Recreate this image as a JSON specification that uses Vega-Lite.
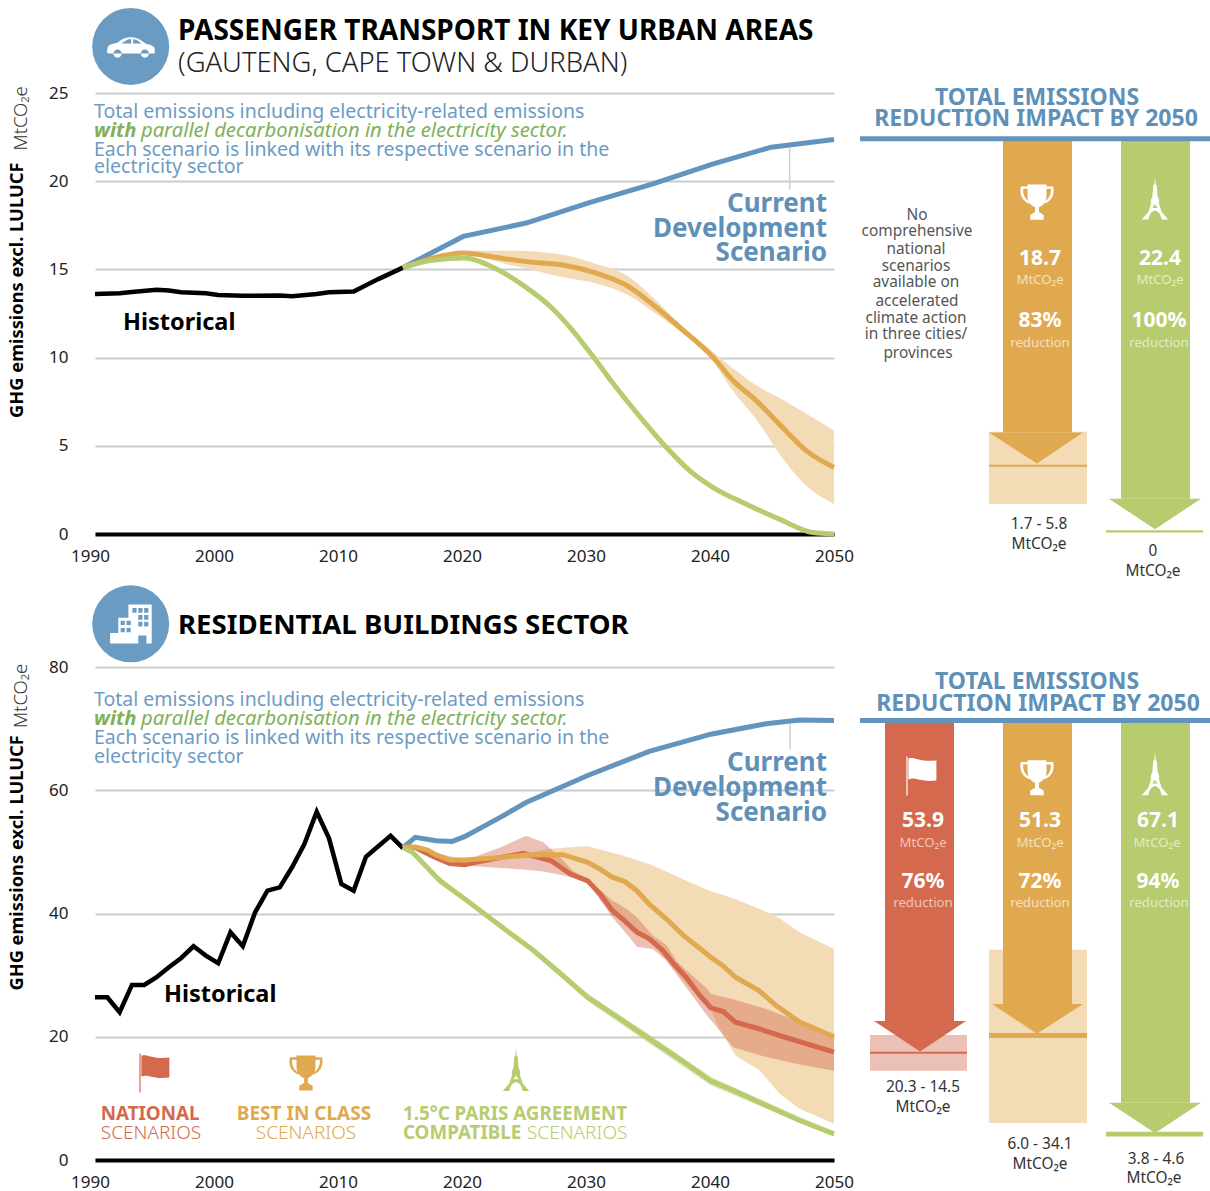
{
"$schema":"https://vega.github.io/schema/vega-lite/v6.json",
"background":"#ffffff",
"padding":{"left":8,"top":7,"right":0,"bottom":5},
"bounds":"flush",
"columns":2,
"spacing":{"row":133,"column":26},
"config":{"view":{"stroke":null},"text":{"font":"Noto Sans"},"axis":{"labelFont":"Noto Sans"}},
"concat":[
{
"width":739,"height":441,
"encoding":{
"x":{"field":"yr","type":"quantitative","title":null,"scale":{"domain":[1990,2050],"nice":false},"axis":{"values":[1990,2000,2010,2020,2030,2040,2050],"format":"d","grid":false,"ticks":false,"domainColor":"#000000","domainWidth":4,"labelFontSize":17,"labelColor":"#222222","labelPadding":14,"labelFlush":false,"labelOverlap":false,"labelBound":false,"labelOffset":{"expr":"-(2050-datum.value)/12"}}},
"y":{"field":"v","type":"quantitative","title":null,"scale":{"domain":[0,25],"nice":false},"axis":{"values":[0,5,10,15,20,25],"grid":true,"gridColor":"#cccccc","gridWidth":2,"ticks":false,"domain":false,"labelFontSize":17,"labelColor":"#222222","labelPadding":27}}
},
"layer":[
{"data":{"values":[{"yr":2015,"v":15.1,"v2":15.1},{"yr":2019.9,"v":16.06,"v2":15.8},{"yr":2024,"v":16.06,"v2":15.2},{"yr":2028,"v":15.83,"v2":14.55},{"yr":2030.7,"v":15.3,"v2":14.2},{"yr":2033.4,"v":14.55,"v2":13.5},{"yr":2035.3,"v":13.4,"v2":12.6},{"yr":2037.5,"v":11.9,"v2":11.5},{"yr":2040.2,"v":10.3,"v2":9.8},{"yr":2041.6,"v":9.5,"v2":8.3},{"yr":2044,"v":8.3,"v2":6.2},{"yr":2045.6,"v":7.7,"v2":4.5},{"yr":2047.8,"v":6.8,"v2":2.7},{"yr":2050,"v":5.85,"v2":1.7}]},"mark":{"type":"area","color":"#f2dbb5","interpolate":"monotone"},"encoding":{"y2":{"field":"v2"}}},
{"data":{"values":[{"yr":2046.4,"v":21.9,"v2":19.52}]},"mark":{"type":"rule","color":"#cfcfcf","strokeWidth":1.5},"encoding":{"y2":{"field":"v2"}}},
{"data":{"values":[{"yr":1990,"v":13.6},{"yr":1992,"v":13.65},{"yr":1993,"v":13.72},{"yr":1995,"v":13.85},{"yr":1996,"v":13.8},{"yr":1997,"v":13.7},{"yr":1999,"v":13.65},{"yr":2000,"v":13.55},{"yr":2002,"v":13.5},{"yr":2005,"v":13.52},{"yr":2006,"v":13.48},{"yr":2008,"v":13.6},{"yr":2009,"v":13.7},{"yr":2011,"v":13.75},{"yr":2012,"v":14.1},{"yr":2013,"v":14.45},{"yr":2015,"v":15.1}]},"mark":{"type":"line","color":"#000000","strokeWidth":4.5}},
{"data":{"values":[{"yr":2015,"v":15.1},{"yr":2019.9,"v":16.87},{"yr":2025,"v":17.63},{"yr":2030.2,"v":18.8},{"yr":2035.3,"v":19.85},{"yr":2040.2,"v":20.98},{"yr":2044.9,"v":21.93},{"yr":2050,"v":22.36}]},"mark":{"type":"line","color":"#6394bd","strokeWidth":5}},
{"data":{"values":[{"yr":2015,"v":15.1},{"yr":2017.2,"v":15.6},{"yr":2019.9,"v":15.93},{"yr":2022.6,"v":15.68},{"yr":2025,"v":15.44},{"yr":2028,"v":15.25},{"yr":2030.5,"v":14.83},{"yr":2033.2,"v":14.08},{"yr":2035.3,"v":13.0},{"yr":2037.5,"v":11.7},{"yr":2040.2,"v":10.0},{"yr":2041.8,"v":8.7},{"yr":2043.7,"v":7.55},{"yr":2045.6,"v":6.2},{"yr":2047.8,"v":4.7},{"yr":2050,"v":3.77}]},"mark":{"type":"line","color":"#e0a94f","strokeWidth":5,"interpolate":"monotone"}},
{"data":{"values":[{"yr":2015,"v":15.1},{"yr":2017.2,"v":15.5},{"yr":2019.9,"v":15.65},{"yr":2022.6,"v":15.02},{"yr":2025,"v":13.98},{"yr":2026.9,"v":12.94},{"yr":2028.8,"v":11.52},{"yr":2030.5,"v":10.0},{"yr":2032.1,"v":8.5},{"yr":2034.3,"v":6.6},{"yr":2036.4,"v":4.9},{"yr":2038.3,"v":3.58},{"yr":2040.2,"v":2.63},{"yr":2042.9,"v":1.68},{"yr":2045.6,"v":0.83},{"yr":2048.3,"v":0.08},{"yr":2050,"v":0}]},"mark":{"type":"line","color":"#b6cc6e","strokeWidth":5,"interpolate":"monotone"}},
{"data":{"values":[{"yr":1992.9,"v":27.64}]},"mark":{"type":"point","shape":"circle","size":5929,"filled":true,"color":"#6a9cc3","opacity":1}},
{"data":{"values":[{"yr":1992.9,"v":27.64}]},"mark":{"type":"point","shape":"M-1,0.25 L-0.95,0 C-0.85,-0.1 -0.7,-0.12 -0.55,-0.15 C-0.35,-0.35 -0.15,-0.38 0.05,-0.38 C0.3,-0.38 0.5,-0.2 0.65,-0.1 C0.85,-0.07 1,0 1,0.1 L1,0.3 L-0.9,0.3 Z M-0.4,-0.12 L0.02,-0.12 L0.02,-0.3 L-0.1,-0.3 Z M0.1,-0.12 L0.45,-0.12 C0.35,-0.22 0.22,-0.3 0.1,-0.3 Z M-0.72,0.3 a0.17,0.17 0 1,0 0.34,0 a0.17,0.17 0 1,0 -0.34,0 Z M0.42,0.3 a0.17,0.17 0 1,0 0.34,0 a0.17,0.17 0 1,0 -0.34,0 Z","size":2300,"filled":true,"color":"#ffffff","opacity":1}},
{"data":{"values":[{"yr":1996.74,"v":28.43,"t":"PASSENGER TRANSPORT IN KEY URBAN AREAS"}]},"mark":{"type":"text","align":"left","baseline":"middle","fontSize":28,"fontWeight":"bold","color":"#000000"},"encoding":{"text":{"field":"t"}}},
{"data":{"values":[{"yr":1996.74,"v":26.67,"t":"(GAUTENG, CAPE TOWN & DURBAN)"}]},"mark":{"type":"text","align":"left","baseline":"middle","fontSize":27.4,"fontWeight":300,"color":"#222222"},"encoding":{"text":{"field":"t"}}},
{"data":{"values":[{"yr":1989.92,"v":23.95,"t":"Total emissions including electricity-related emissions"},{"yr":1989.92,"v":21.79,"t":"Each scenario is linked with its respective scenario in the"},{"yr":1989.92,"v":20.83,"t":"electricity sector"}]},"mark":{"type":"text","align":"left","baseline":"middle","fontSize":19.5,"color":"#6d9bc3"},"encoding":{"text":{"field":"t"}}},
{"data":{"values":[{"yr":1989.92,"v":22.87,"t":"with"}]},"mark":{"type":"text","align":"left","baseline":"middle","fontSize":20.2,"fontWeight":"bold","fontStyle":"italic","color":"#7fb05a"},"encoding":{"text":{"field":"t"}}},
{"data":{"values":[{"yr":1993.73,"v":22.87,"t":"parallel decarbonisation in the electricity sector."}]},"mark":{"type":"text","align":"left","baseline":"middle","fontSize":20.2,"fontStyle":"italic","color":"#7fb05a"},"encoding":{"text":{"field":"t"}}},
{"data":{"values":[{"yr":1992.27,"v":11.98,"t":"Historical"}]},"mark":{"type":"text","align":"left","baseline":"middle","fontSize":23.5,"fontWeight":"bold","color":"#000000"},"encoding":{"text":{"field":"t"}}},
{"data":{"values":[{"yr":2049.43,"v":18.73,"t":"Current"},{"yr":2049.43,"v":17.31,"t":"Development"},{"yr":2049.43,"v":15.95,"t":"Scenario"}]},"mark":{"type":"text","align":"right","baseline":"middle","fontSize":26,"fontWeight":"bold","color":"#5f90b8"},"encoding":{"text":{"field":"t"}}},
{"data":{"values":[{"yr":1983.75,"v":6.58,"t":"GHG emissions excl. LULUCF"}]},"mark":{"type":"text","angle":270,"align":"left","baseline":"middle","fontSize":18.3,"fontWeight":"bold","color":"#000000"},"encoding":{"text":{"field":"t"}}},
{"data":{"values":[{"yr":1984,"v":21.74,"t":"MtCO₂e"}]},"mark":{"type":"text","angle":270,"align":"left","baseline":"middle","fontSize":18.5,"fontWeight":300,"color":"#333333"},"encoding":{"text":{"field":"t"}}}
]
},
{
"width":350,"height":441,
"encoding":{
"x":{"field":"p","type":"quantitative","axis":null,"scale":{"domain":[0,350],"nice":false}},
"y":{"field":"v","type":"quantitative","axis":null,"scale":{"domain":[0,25],"nice":false}}
},
"layer":[
{"data":{"values":[{"s":"Best","p":129,"p2":227,"v":5.8,"v2":1.7}]},"mark":{"type":"rect","opacity":0.42},"encoding":{"x2":{"field":"p2"},"y2":{"field":"v2"},"color":{"field":"s","legend":null,"scale":{"domain":["National","Best","Paris"],"range":["#d4694e","#e0a94f","#b6cc6e"]}}}},
{"data":{"values":[{"s":"Best","p":143,"p2":212,"v":22.4,"v2":5.75},{"s":"Paris","p":261,"p2":330,"v":22.4,"v2":2.0}]},"mark":{"type":"rect"},"encoding":{"x2":{"field":"p2"},"y2":{"field":"v2"},"color":{"field":"s","legend":null,"scale":{"domain":["National","Best","Paris"],"range":["#d4694e","#e0a94f","#b6cc6e"]}}}},
{"data":{"values":[{"s":"Best","p":129,"v":5.75,"v2":5.75},{"s":"Best","p":177,"v":3.99,"v2":5.75},{"s":"Best","p":223,"v":5.75,"v2":5.75},{"s":"Paris","p":249,"v":2.0,"v2":2.0},{"s":"Paris","p":295,"v":0.27,"v2":2.0},{"s":"Paris","p":341,"v":2.0,"v2":2.0}]},"mark":{"type":"area"},"encoding":{"y2":{"field":"v2"},"color":{"field":"s","legend":null,"scale":{"domain":["National","Best","Paris"],"range":["#d4694e","#e0a94f","#b6cc6e"]}}}},
{"data":{"values":[{"s":"Best","p":129,"p2":227,"v":3.93,"v2":3.81},{"s":"Paris","p":246,"p2":343,"v":0.21,"v2":0.09}]},"mark":{"type":"rect"},"encoding":{"x2":{"field":"p2"},"y2":{"field":"v2"},"color":{"field":"s","legend":null,"scale":{"domain":["National","Best","Paris"],"range":["#d4694e","#e0a94f","#b6cc6e"]}}}},
{"data":{"values":[{"p":0,"p2":350,"v":22.4}]},"mark":{"type":"rule","color":"#6394bd","strokeWidth":5},"encoding":{"x2":{"field":"p2"}}},
{"data":{"values":[{"p":177,"v":18.84}]},"mark":{"type":"point","shape":"M-0.5,-0.9 L0.5,-0.9 L0.5,-0.3 C0.5,0.1 0.2,0.25 0.1,0.3 L0.1,0.55 L0.35,0.7 L0.35,0.95 L-0.35,0.95 L-0.35,0.7 L-0.1,0.55 L-0.1,0.3 C-0.2,0.25 -0.5,0.1 -0.5,-0.3 Z M0.5,-0.8 L0.85,-0.8 C0.95,-0.3 0.7,0 0.4,0.1 L0.4,-0.03 C0.6,-0.1 0.75,-0.35 0.73,-0.68 L0.5,-0.68 Z M-0.5,-0.68 L-0.73,-0.68 C-0.75,-0.35 -0.6,-0.1 -0.4,-0.03 L-0.4,0.1 C-0.7,0 -0.95,-0.3 -0.85,-0.8 L-0.5,-0.8 Z","size":1444,"filled":true,"color":"#ffffff","opacity":1}},
{"data":{"values":[{"p":295,"v":19.01}]},"mark":{"type":"point","shape":"M0,-1 L0.03,-0.65 L0.08,-0.6 L0.12,-0.1 L0.2,0.1 L0.17,0.2 L0.3,0.6 L0.6,0.95 L0.3,0.95 C0.25,0.65 0.1,0.55 0,0.55 C-0.1,0.55 -0.25,0.65 -0.3,0.95 L-0.6,0.95 L-0.3,0.6 L-0.17,0.2 L-0.2,0.1 L-0.12,-0.1 L-0.08,-0.6 L-0.03,-0.65 Z M0,0.25 L-0.12,0.42 L0.12,0.42 Z","size":1936,"filled":true,"color":"#ffffff","opacity":1}},
{"data":{"values":[{"p":177,"v":24.74,"t":"TOTAL EMISSIONS"},{"p":176,"v":23.55,"t":"REDUCTION IMPACT BY 2050"}]},"mark":{"type":"text","align":"center","baseline":"middle","fontSize":23,"fontWeight":"bold","color":"#5f90b8"},"encoding":{"text":{"field":"t"}}},
{"data":{"values":[{"p":180,"v":15.61,"t":"18.7"},{"p":180,"v":12.09,"t":"83%"},{"p":300,"v":15.61,"t":"22.4"},{"p":299,"v":12.09,"t":"100%"}]},"mark":{"type":"text","align":"center","baseline":"middle","fontSize":21,"fontWeight":"bold","color":"#ffffff"},"encoding":{"text":{"field":"t"}}},
{"data":{"values":[{"p":180,"v":14.42,"t":"MtCO₂e"},{"p":180,"v":10.84,"t":"reduction"}]},"mark":{"type":"text","align":"center","baseline":"middle","fontSize":13.2,"color":"#f5e0bd"},"encoding":{"text":{"field":"t"}}},
{"data":{"values":[{"p":300,"v":14.42,"t":"MtCO₂e"},{"p":299,"v":10.84,"t":"reduction"}]},"mark":{"type":"text","align":"center","baseline":"middle","fontSize":13.2,"color":"#e3ecc4"},"encoding":{"text":{"field":"t"}}},
{"data":{"values":[{"p":179,"v":0.57,"t":"1.7 - 5.8"},{"p":179,"v":-0.57,"t":"MtCO₂e"},{"p":293,"v":-0.96,"t":"0"},{"p":293,"v":-2.1,"t":"MtCO₂e"}]},"mark":{"type":"text","align":"center","baseline":"middle","fontSize":15.4,"color":"#333333"},"encoding":{"text":{"field":"t"}}},
{"data":{"values":[{"p":57,"v":18.1,"t":"No"},{"p":57,"v":17.2,"t":"comprehensive"},{"p":56,"v":16.17,"t":"national"},{"p":56,"v":15.21,"t":"scenarios"},{"p":56,"v":14.3,"t":"available on"},{"p":57,"v":13.22,"t":"accelerated"},{"p":56,"v":12.26,"t":"climate action"},{"p":56,"v":11.35,"t":"in three cities/"},{"p":58,"v":10.27,"t":"provinces"}]},"mark":{"type":"text","align":"center","baseline":"middle","fontSize":15.4,"color":"#555555"},"encoding":{"text":{"field":"t"}}}
]
},
{
"width":739,"height":493,
"encoding":{
"x":{"field":"yr","type":"quantitative","title":null,"scale":{"domain":[1990,2050],"nice":false},"axis":{"values":[1990,2000,2010,2020,2030,2040,2050],"format":"d","grid":false,"ticks":false,"domainColor":"#000000","domainWidth":4,"labelFontSize":17,"labelColor":"#222222","labelPadding":14,"labelFlush":false,"labelOverlap":false,"labelBound":false,"labelOffset":{"expr":"-(2050-datum.value)/12"}}},
"y":{"field":"v","type":"quantitative","title":null,"scale":{"domain":[0,80],"nice":false},"axis":{"values":[0,20,40,60,80],"grid":true,"gridColor":"#cccccc","gridWidth":2,"ticks":false,"domain":false,"labelFontSize":17,"labelColor":"#222222","labelPadding":27}}
},
"layer":[
{"data":{"values":[{"yr":2015,"v":50.8,"v2":50.8},{"yr":2020,"v":48.9,"v2":48.5},{"yr":2025,"v":49.8,"v2":49},{"yr":2027,"v":50.5,"v2":48.5},{"yr":2028.8,"v":50.8,"v2":46.4},{"yr":2030,"v":50.9,"v2":45.2},{"yr":2032.4,"v":49.65,"v2":40.0},{"yr":2033.7,"v":48.9,"v2":37.8},{"yr":2035.3,"v":47.8,"v2":35.06},{"yr":2038,"v":45.3,"v2":28.6},{"yr":2040,"v":43.6,"v2":24.25},{"yr":2040.7,"v":43.2,"v2":21.3},{"yr":2042,"v":42.3,"v2":16.95},{"yr":2044,"v":40.7,"v2":14.5},{"yr":2045.6,"v":39.2,"v2":10.7},{"yr":2047.2,"v":36.95,"v2":8.3},{"yr":2050,"v":34.25,"v2":5.9}]},"mark":{"type":"area","color":"#f2dbb5"},"encoding":{"y2":{"field":"v2"}}},
{"data":{"values":[{"yr":2020,"v":48.6,"v2":47.8},{"yr":2022.9,"v":50.7,"v2":47.4},{"yr":2025,"v":52.6,"v2":47.1},{"yr":2026.4,"v":51.55,"v2":46.8},{"yr":2027.8,"v":49.1,"v2":46.3},{"yr":2028.8,"v":46.9,"v2":45.8},{"yr":2030,"v":45.6,"v2":45.05},{"yr":2032,"v":42.1,"v2":39.4},{"yr":2033.2,"v":40.7,"v2":36.6},{"yr":2034,"v":39.4,"v2":34.6},{"yr":2035.3,"v":36.4,"v2":34.2},{"yr":2036.4,"v":34.9,"v2":32.35},{"yr":2037.2,"v":32.35,"v2":30.2},{"yr":2038,"v":30.8,"v2":28},{"yr":2039.7,"v":27.8,"v2":23.4},{"yr":2040,"v":26.95,"v2":22.7},{"yr":2041.8,"v":26.1,"v2":18.3},{"yr":2044.5,"v":24.5,"v2":16.7},{"yr":2047.2,"v":22.4,"v2":15.5},{"yr":2050,"v":19.9,"v2":14.5}]},"mark":{"type":"area","color":"#d4694e","opacity":0.42},"encoding":{"y2":{"field":"v2"}}},
{"data":{"values":[{"yr":2015,"v":50.7,"v2":50.7},{"yr":2020,"v":42.7,"v2":42.2},{"yr":2025,"v":35.3,"v2":34.6},{"yr":2030,"v":27,"v2":25.8},{"yr":2035,"v":20.4,"v2":18.9},{"yr":2040,"v":13.5,"v2":12.1},{"yr":2045,"v":9,"v2":7.9},{"yr":2050,"v":4.6,"v2":3.9}]},"mark":{"type":"area","color":"#b6cc6e","opacity":0.45},"encoding":{"y2":{"field":"v2"}}},
{"data":{"values":[{"yr":2046.43,"v":70.8,"v2":66.57}]},"mark":{"type":"rule","color":"#cfcfcf","strokeWidth":1.5},"encoding":{"y2":{"field":"v2"}}},
{"data":{"values":[{"yr":1990,"v":26.41},{"yr":1991,"v":26.41},{"yr":1992,"v":23.98},{"yr":1993,"v":28.41},{"yr":1994,"v":28.41},{"yr":1995,"v":29.66},{"yr":1996,"v":31.28},{"yr":1997,"v":32.79},{"yr":1998,"v":34.68},{"yr":1999,"v":33.17},{"yr":2000,"v":31.93},{"yr":2001,"v":36.95},{"yr":2002,"v":34.68},{"yr":2003,"v":40.2},{"yr":2004,"v":43.7},{"yr":2005,"v":44.25},{"yr":2006,"v":47.5},{"yr":2007,"v":51.28},{"yr":2008,"v":56.52},{"yr":2009,"v":52.2},{"yr":2010,"v":44.8},{"yr":2011,"v":43.7},{"yr":2012,"v":49.2},{"yr":2013,"v":50.9},{"yr":2014,"v":52.6},{"yr":2015,"v":50.6}]},"mark":{"type":"line","color":"#000000","strokeWidth":4.5}},
{"data":{"values":[{"yr":2015,"v":50.7},{"yr":2016,"v":52.36},{"yr":2017.7,"v":51.8},{"yr":2019,"v":51.7},{"yr":2020,"v":52.47},{"yr":2022.9,"v":55.6},{"yr":2025,"v":58},{"yr":2030,"v":62.4},{"yr":2035,"v":66.3},{"yr":2040,"v":69.1},{"yr":2044.5,"v":70.8},{"yr":2047.2,"v":71.4},{"yr":2050,"v":71.3}]},"mark":{"type":"line","color":"#6394bd","strokeWidth":5}},
{"data":{"values":[{"yr":2015,"v":50.8},{"yr":2016,"v":50.7},{"yr":2017.5,"v":49.2},{"yr":2018.8,"v":48.1},{"yr":2020,"v":47.9},{"yr":2021.5,"v":48.57},{"yr":2024.8,"v":49.76},{"yr":2027,"v":48.6},{"yr":2028.6,"v":46.4},{"yr":2030,"v":45.3},{"yr":2031,"v":43.2},{"yr":2032,"v":40.5},{"yr":2033,"v":38.8},{"yr":2034,"v":36.95},{"yr":2035,"v":35.9},{"yr":2036.1,"v":34},{"yr":2037,"v":31.8},{"yr":2038,"v":29.65},{"yr":2039.1,"v":26.7},{"yr":2040,"v":24.7},{"yr":2041,"v":24.1},{"yr":2042,"v":22.35},{"yr":2043.9,"v":21.3},{"yr":2045.9,"v":20},{"yr":2047.8,"v":18.85},{"yr":2050,"v":17.5}]},"mark":{"type":"line","color":"#d4694e","strokeWidth":5}},
{"data":{"values":[{"yr":2015,"v":50.8},{"yr":2016,"v":50.8},{"yr":2017,"v":50.3},{"yr":2017.7,"v":49.5},{"yr":2018.8,"v":48.7},{"yr":2020,"v":48.7},{"yr":2023,"v":49.1},{"yr":2025,"v":49.5},{"yr":2028,"v":49.55},{"yr":2030,"v":48.3},{"yr":2031,"v":47.2},{"yr":2032,"v":45.9},{"yr":2033,"v":45.2},{"yr":2034,"v":43.7},{"yr":2035,"v":41.5},{"yr":2036.4,"v":39.1},{"yr":2037.8,"v":36.4},{"yr":2040,"v":32.9},{"yr":2041,"v":31.5},{"yr":2042,"v":29.65},{"yr":2043.9,"v":27.5},{"yr":2045.3,"v":25.05},{"yr":2047.2,"v":22.4},{"yr":2050,"v":20}]},"mark":{"type":"line","color":"#e0a94f","strokeWidth":5}},
{"data":{"values":[{"yr":2015,"v":50.7},{"yr":2015.8,"v":49.9},{"yr":2018,"v":45.3},{"yr":2020,"v":42.4},{"yr":2022.9,"v":38},{"yr":2025.6,"v":34},{"yr":2028,"v":29.9},{"yr":2030,"v":26.4},{"yr":2032.4,"v":23.2},{"yr":2035,"v":19.65},{"yr":2037.8,"v":15.9},{"yr":2040,"v":12.8},{"yr":2041.8,"v":11.3},{"yr":2044.5,"v":8.85},{"yr":2047.2,"v":6.4},{"yr":2050,"v":4.25}]},"mark":{"type":"line","color":"#b6cc6e","strokeWidth":5}},
{"data":{"values":[{"yr":1992.9,"v":87}]},"mark":{"type":"point","shape":"circle","size":5929,"filled":true,"color":"#6a9cc3","opacity":1}},
{"data":{"values":[{"yr":1992.9,"v":87}]},"mark":{"type":"point","shape":"M-0.11,-0.92 L1,-0.92 L1,0.94 L-0.98,0.94 L-0.98,0.43 L-0.59,0.43 L-0.59,-0.29 L-0.11,-0.29 Z M0.08,-0.75 L0.08,-0.53 L0.28,-0.53 L0.28,-0.75 Z M0.36,-0.75 L0.36,-0.53 L0.56,-0.53 L0.56,-0.75 Z M0.64,-0.75 L0.64,-0.53 L0.84,-0.53 L0.84,-0.75 Z M0.36,-0.42 L0.36,-0.2 L0.56,-0.2 L0.56,-0.42 Z M0.64,-0.42 L0.64,-0.2 L0.84,-0.2 L0.84,-0.42 Z M0.36,-0.1 L0.36,0.12 L0.56,0.12 L0.56,-0.1 Z M0.64,-0.1 L0.64,0.12 L0.84,0.12 L0.84,-0.1 Z M-0.48,-0.15 L-0.48,0.05 L-0.28,0.05 L-0.28,-0.15 Z M-0.2,-0.15 L-0.2,0.05 L0,0.05 L0,-0.15 Z M-0.48,0.2 L-0.48,0.4 L-0.28,0.4 L-0.28,0.2 Z M-0.2,0.2 L-0.2,0.4 L0,0.4 L0,0.2 Z M0.36,0.55 L0.36,0.94 L0.75,0.94 L0.75,0.55 Z","size":1764,"filled":true,"color":"#ffffff","opacity":1}},
{"data":{"values":[{"yr":1994.87,"v":14.19}]},"mark":{"type":"point","shape":"M-0.78,-0.95 L-0.72,-0.95 L-0.72,1 L-0.78,1 Z M-0.68,-0.85 C-0.35,-0.95 -0.1,-0.65 0.72,-0.75 L0.72,0.25 C-0.1,0.35 -0.35,0.05 -0.68,0.2 Z","size":1600,"filled":true,"color":"#d4694e","opacity":1}},
{"data":{"values":[{"yr":2007.13,"v":14.19}]},"mark":{"type":"point","shape":"M-0.5,-0.9 L0.5,-0.9 L0.5,-0.3 C0.5,0.1 0.2,0.25 0.1,0.3 L0.1,0.55 L0.35,0.7 L0.35,0.95 L-0.35,0.95 L-0.35,0.7 L-0.1,0.55 L-0.1,0.3 C-0.2,0.25 -0.5,0.1 -0.5,-0.3 Z M0.5,-0.8 L0.85,-0.8 C0.95,-0.3 0.7,0 0.4,0.1 L0.4,-0.03 C0.6,-0.1 0.75,-0.35 0.73,-0.68 L0.5,-0.68 Z M-0.5,-0.68 L-0.73,-0.68 C-0.75,-0.35 -0.6,-0.1 -0.4,-0.03 L-0.4,0.1 C-0.7,0 -0.95,-0.3 -0.85,-0.8 L-0.5,-0.8 Z","size":1444,"filled":true,"color":"#e0a94f","opacity":1}},
{"data":{"values":[{"yr":2024.18,"v":14.6}]},"mark":{"type":"point","shape":"M0,-1 L0.03,-0.65 L0.08,-0.6 L0.12,-0.1 L0.2,0.1 L0.17,0.2 L0.3,0.6 L0.6,0.95 L0.3,0.95 C0.25,0.65 0.1,0.55 0,0.55 C-0.1,0.55 -0.25,0.65 -0.3,0.95 L-0.6,0.95 L-0.3,0.6 L-0.17,0.2 L-0.2,0.1 L-0.12,-0.1 L-0.08,-0.6 L-0.03,-0.65 Z M0,0.25 L-0.12,0.42 L0.12,0.42 Z","size":1936,"filled":true,"color":"#b6cc6e","opacity":1}},
{"data":{"values":[{"yr":1996.74,"v":86.7,"t":"RESIDENTIAL BUILDINGS SECTOR"}]},"mark":{"type":"text","align":"left","baseline":"middle","fontSize":27.6,"fontWeight":"bold","color":"#000000"},"encoding":{"text":{"field":"t"}}},
{"data":{"values":[{"yr":1989.92,"v":74.68,"t":"Total emissions including electricity-related emissions"},{"yr":1989.92,"v":68.5,"t":"Each scenario is linked with its respective scenario in the"},{"yr":1989.92,"v":65.44,"t":"electricity sector"}]},"mark":{"type":"text","align":"left","baseline":"middle","fontSize":19.5,"color":"#6d9bc3"},"encoding":{"text":{"field":"t"}}},
{"data":{"values":[{"yr":1989.92,"v":71.6,"t":"with"}]},"mark":{"type":"text","align":"left","baseline":"middle","fontSize":20.2,"fontWeight":"bold","fontStyle":"italic","color":"#7fb05a"},"encoding":{"text":{"field":"t"}}},
{"data":{"values":[{"yr":1993.73,"v":71.6,"t":"parallel decarbonisation in the electricity sector."}]},"mark":{"type":"text","align":"left","baseline":"middle","fontSize":20.2,"fontStyle":"italic","color":"#7fb05a"},"encoding":{"text":{"field":"t"}}},
{"data":{"values":[{"yr":1995.6,"v":26.84,"t":"Historical"}]},"mark":{"type":"text","align":"left","baseline":"middle","fontSize":23.5,"fontWeight":"bold","color":"#000000"},"encoding":{"text":{"field":"t"}}},
{"data":{"values":[{"yr":2049.43,"v":64.47,"t":"Current"},{"yr":2049.43,"v":60.41,"t":"Development"},{"yr":2049.43,"v":56.36,"t":"Scenario"}]},"mark":{"type":"text","align":"right","baseline":"middle","fontSize":26,"fontWeight":"bold","color":"#5f90b8"},"encoding":{"text":{"field":"t"}}},
{"data":{"values":[{"yr":1994.47,"v":7.54,"t":"NATIONAL"}]},"mark":{"type":"text","align":"center","baseline":"middle","fontSize":18.8,"fontWeight":"bold","color":"#d4694e"},"encoding":{"text":{"field":"t"}}},
{"data":{"values":[{"yr":1994.55,"v":4.46,"t":"SCENARIOS"}]},"mark":{"type":"text","align":"center","baseline":"middle","fontSize":19,"fontWeight":300,"color":"#d4694e"},"encoding":{"text":{"field":"t"}}},
{"data":{"values":[{"yr":2006.97,"v":7.54,"t":"BEST IN CLASS"}]},"mark":{"type":"text","align":"center","baseline":"middle","fontSize":19,"fontWeight":"bold","color":"#e0a94f"},"encoding":{"text":{"field":"t"}}},
{"data":{"values":[{"yr":2007.13,"v":4.46,"t":"SCENARIOS"}]},"mark":{"type":"text","align":"center","baseline":"middle","fontSize":19,"fontWeight":300,"color":"#e0a94f"},"encoding":{"text":{"field":"t"}}},
{"data":{"values":[{"yr":2024.1,"v":7.54,"t":"1.5°C PARIS AGREEMENT"}]},"mark":{"type":"text","align":"center","baseline":"middle","fontSize":18.8,"fontWeight":"bold","color":"#b6cc6e"},"encoding":{"text":{"field":"t"}}},
{"data":{"values":[{"yr":2015,"v":4.46,"t":"COMPATIBLE"}]},"mark":{"type":"text","align":"left","baseline":"middle","fontSize":18.8,"fontWeight":"bold","color":"#b6cc6e"},"encoding":{"text":{"field":"t"}}},
{"data":{"values":[{"yr":2025.07,"v":4.46,"t":"SCENARIOS"}]},"mark":{"type":"text","align":"left","baseline":"middle","fontSize":19,"fontWeight":300,"color":"#b6cc6e"},"encoding":{"text":{"field":"t"}}},
{"data":{"values":[{"yr":1983.75,"v":27.49,"t":"GHG emissions excl. LULUCF"}]},"mark":{"type":"text","angle":270,"align":"left","baseline":"middle","fontSize":18.3,"fontWeight":"bold","color":"#000000"},"encoding":{"text":{"field":"t"}}},
{"data":{"values":[{"yr":1984,"v":70.1,"t":"MtCO₂e"}]},"mark":{"type":"text","angle":270,"align":"left","baseline":"middle","fontSize":18.5,"fontWeight":300,"color":"#333333"},"encoding":{"text":{"field":"t"}}}
]
},
{
"width":350,"height":493,
"encoding":{
"x":{"field":"p","type":"quantitative","axis":null,"scale":{"domain":[0,350],"nice":false}},
"y":{"field":"v","type":"quantitative","axis":null,"scale":{"domain":[0,80],"nice":false}}
},
"layer":[
{"data":{"values":[{"s":"National","p":10,"p2":107,"v":20.3,"v2":14.5},{"s":"Best","p":129,"p2":227,"v":34.1,"v2":6.0}]},"mark":{"type":"rect","opacity":0.42},"encoding":{"x2":{"field":"p2"},"y2":{"field":"v2"},"color":{"field":"s","legend":null,"scale":{"domain":["National","Best","Paris"],"range":["#d4694e","#e0a94f","#b6cc6e"]}}}},
{"data":{"values":[{"s":"National","p":25,"p2":94,"v":71.3,"v2":22.56},{"s":"Best","p":143,"p2":212,"v":71.3,"v2":25.3},{"s":"Paris","p":261,"p2":330,"v":71.3,"v2":9.3}]},"mark":{"type":"rect"},"encoding":{"x2":{"field":"p2"},"y2":{"field":"v2"},"color":{"field":"s","legend":null,"scale":{"domain":["National","Best","Paris"],"range":["#d4694e","#e0a94f","#b6cc6e"]}}}},
{"data":{"values":[{"s":"National","p":14,"v":22.56,"v2":22.56},{"s":"National","p":60,"v":17.6,"v2":22.56},{"s":"National","p":106,"v":22.56,"v2":22.56},{"s":"Best","p":132,"v":25.3,"v2":25.3},{"s":"Best","p":177,"v":20.5,"v2":25.3},{"s":"Best","p":223,"v":25.3,"v2":25.3},{"s":"Paris","p":249,"v":9.3,"v2":9.3},{"s":"Paris","p":295,"v":4.4,"v2":9.3},{"s":"Paris","p":341,"v":9.3,"v2":9.3}]},"mark":{"type":"area"},"encoding":{"y2":{"field":"v2"},"color":{"field":"s","legend":null,"scale":{"domain":["National","Best","Paris"],"range":["#d4694e","#e0a94f","#b6cc6e"]}}}},
{"data":{"values":[{"s":"National","p":10,"p2":107,"v":17.55,"v2":17.25},{"s":"Best","p":129,"p2":227,"v":20.6,"v2":19.8},{"s":"Paris","p":246,"p2":343,"v":4.6,"v2":3.8}]},"mark":{"type":"rect"},"encoding":{"x2":{"field":"p2"},"y2":{"field":"v2"},"color":{"field":"s","legend":null,"scale":{"domain":["National","Best","Paris"],"range":["#d4694e","#e0a94f","#b6cc6e"]}}}},
{"data":{"values":[{"p":0,"p2":350,"v":71.3}]},"mark":{"type":"rule","color":"#6394bd","strokeWidth":5},"encoding":{"x2":{"field":"p2"}}},
{"data":{"values":[{"p":62,"v":62.4}]},"mark":{"type":"point","shape":"M-0.78,-0.95 L-0.72,-0.95 L-0.72,1 L-0.78,1 Z M-0.68,-0.85 C-0.35,-0.95 -0.1,-0.65 0.72,-0.75 L0.72,0.25 C-0.1,0.35 -0.35,0.05 -0.68,0.2 Z","size":1600,"filled":true,"color":"#ffffff","opacity":1}},
{"data":{"values":[{"p":177,"v":62.1}]},"mark":{"type":"point","shape":"M-0.5,-0.9 L0.5,-0.9 L0.5,-0.3 C0.5,0.1 0.2,0.25 0.1,0.3 L0.1,0.55 L0.35,0.7 L0.35,0.95 L-0.35,0.95 L-0.35,0.7 L-0.1,0.55 L-0.1,0.3 C-0.2,0.25 -0.5,0.1 -0.5,-0.3 Z M0.5,-0.8 L0.85,-0.8 C0.95,-0.3 0.7,0 0.4,0.1 L0.4,-0.03 C0.6,-0.1 0.75,-0.35 0.73,-0.68 L0.5,-0.68 Z M-0.5,-0.68 L-0.73,-0.68 C-0.75,-0.35 -0.6,-0.1 -0.4,-0.03 L-0.4,0.1 C-0.7,0 -0.95,-0.3 -0.85,-0.8 L-0.5,-0.8 Z","size":1444,"filled":true,"color":"#ffffff","opacity":1}},
{"data":{"values":[{"p":295,"v":62.6}]},"mark":{"type":"point","shape":"M0,-1 L0.03,-0.65 L0.08,-0.6 L0.12,-0.1 L0.2,0.1 L0.17,0.2 L0.3,0.6 L0.6,0.95 L0.3,0.95 C0.25,0.65 0.1,0.55 0,0.55 C-0.1,0.55 -0.25,0.65 -0.3,0.95 L-0.6,0.95 L-0.3,0.6 L-0.17,0.2 L-0.2,0.1 L-0.12,-0.1 L-0.08,-0.6 L-0.03,-0.65 Z M0,0.25 L-0.12,0.42 L0.12,0.42 Z","size":1936,"filled":true,"color":"#ffffff","opacity":1}},
{"data":{"values":[{"p":177,"v":77.5,"t":"TOTAL EMISSIONS"},{"p":178,"v":74.0,"t":"REDUCTION IMPACT BY 2050"}]},"mark":{"type":"text","align":"center","baseline":"middle","fontSize":23,"fontWeight":"bold","color":"#5f90b8"},"encoding":{"text":{"field":"t"}}},
{"data":{"values":[{"p":63,"v":55,"t":"53.9"},{"p":63,"v":45.1,"t":"76%"},{"p":180,"v":55,"t":"51.3"},{"p":180,"v":45.1,"t":"72%"},{"p":298,"v":55,"t":"67.1"},{"p":298,"v":45.1,"t":"94%"}]},"mark":{"type":"text","align":"center","baseline":"middle","fontSize":21,"fontWeight":"bold","color":"#ffffff"},"encoding":{"text":{"field":"t"}}},
{"data":{"values":[{"p":63,"v":51.4,"t":"MtCO₂e"},{"p":63,"v":41.7,"t":"reduction"}]},"mark":{"type":"text","align":"center","baseline":"middle","fontSize":13.2,"color":"#f0c5b8"},"encoding":{"text":{"field":"t"}}},
{"data":{"values":[{"p":180,"v":51.4,"t":"MtCO₂e"},{"p":180,"v":41.7,"t":"reduction"}]},"mark":{"type":"text","align":"center","baseline":"middle","fontSize":13.2,"color":"#f5e0bd"},"encoding":{"text":{"field":"t"}}},
{"data":{"values":[{"p":297,"v":51.4,"t":"MtCO₂e"},{"p":299,"v":41.7,"t":"reduction"}]},"mark":{"type":"text","align":"center","baseline":"middle","fontSize":13.2,"color":"#e3ecc4"},"encoding":{"text":{"field":"t"}}},
{"data":{"values":[{"p":63,"v":11.8,"t":"20.3 - 14.5"},{"p":63,"v":8.6,"t":"MtCO₂e"},{"p":180,"v":2.6,"t":"6.0 - 34.1"},{"p":180,"v":-0.6,"t":"MtCO₂e"},{"p":296,"v":0.2,"t":"3.8 - 4.6"},{"p":294,"v":-2.9,"t":"MtCO₂e"}]},"mark":{"type":"text","align":"center","baseline":"middle","fontSize":15.4,"color":"#333333"},"encoding":{"text":{"field":"t"}}}
]
}
]
}
